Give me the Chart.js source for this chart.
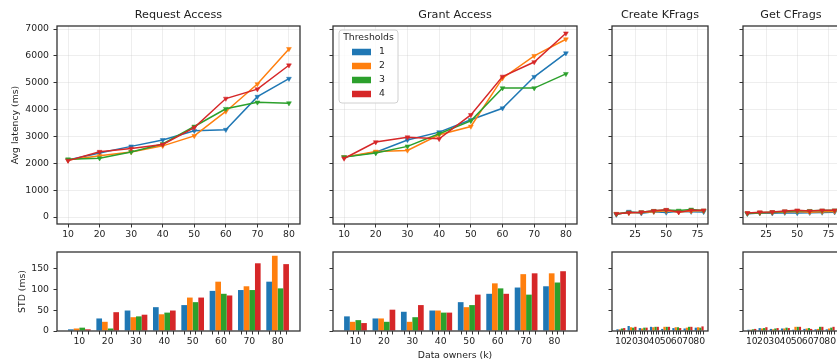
<!DOCTYPE html>
<html>
<head>
<meta charset="utf-8">
<script src="https://cdn.jsdelivr.net/npm/chart.js@4.4.1/dist/chart.umd.min.js"></script>
<style>
  html, body { margin: 0; padding: 0; background: #fff; overflow: hidden; width: 837px; height: 359px; }
  canvas { position: absolute; }
</style>
</head>
<body>
<script>
// ---- categories and tick labels ----
const owners = [10, 20, 30, 40, 50, 60, 70, 80];          // data owners (k)
const thresholds = ['1', '2', '3', '4'];
const latencyTicks = [0, 1000, 2000, 3000, 4000, 5000, 6000, 7000];
const stdTicks = [0, 50, 100, 150];
const narrowTicks = [25, 50, 75];

// ---- average latency (ms) per threshold ----
const requestAvgT1 = [2120, 2380, 2630, 2870, 3210, 3250, 4480, 5150];
const requestAvgT2 = [2120, 2280, 2420, 2650, 3020, 3930, 4950, 6260];
const requestAvgT3 = [2150, 2190, 2420, 2720, 3370, 4030, 4270, 4240];
const requestAvgT4 = [2100, 2430, 2550, 2700, 3330, 4410, 4760, 5650];

const grantAvgT1 = [2230, 2410, 2870, 3160, 3620, 4050, 5220, 6100];
const grantAvgT2 = [2230, 2440, 2480, 3060, 3370, 5170, 6000, 6620];
const grantAvgT3 = [2230, 2380, 2630, 3100, 3580, 4800, 4800, 5330];
const grantAvgT4 = [2180, 2790, 2970, 2910, 3800, 5230, 5770, 6840];

const kfragsAvgT1 = [90, 200, 140, 200, 170, 210, 200, 190];
const kfragsAvgT2 = [120, 160, 170, 200, 230, 190, 220, 230];
const kfragsAvgT3 = [110, 170, 180, 230, 260, 240, 280, 240];
const kfragsAvgT4 = [120, 160, 180, 230, 270, 180, 250, 250];

const cfragsAvgT1 = [120, 150, 140, 160, 150, 160, 170, 180];
const cfragsAvgT2 = [140, 160, 170, 190, 210, 180, 200, 210];
const cfragsAvgT3 = [130, 160, 180, 210, 230, 230, 240, 250];
const cfragsAvgT4 = [150, 180, 190, 220, 250, 220, 250, 250];

// ---- standard deviation (ms) per threshold ----
const requestStdT1 = [4, 30, 49, 57, 62, 96, 98, 118];
const requestStdT2 = [6, 22, 33, 40, 80, 118, 107, 180];
const requestStdT3 = [8, 6, 35, 44, 69, 89, 98, 102];
const requestStdT4 = [4, 45, 39, 49, 80, 85, 162, 160];

const grantStdT1 = [35, 30, 46, 49, 69, 89, 104, 107];
const grantStdT2 = [22, 30, 22, 49, 57, 114, 136, 138];
const grantStdT3 = [26, 22, 33, 44, 62, 102, 87, 116];
const grantStdT4 = [19, 51, 62, 44, 87, 89, 138, 143];

const kfragsStdT1 = [4, 12, 7, 10, 5, 7, 6, 8];
const kfragsStdT2 = [4, 9, 6, 9, 10, 9, 8, 9];
const kfragsStdT3 = [6, 8, 8, 10, 10, 9, 10, 8];
const kfragsStdT4 = [7, 10, 8, 10, 10, 7, 10, 11];

const cfragsStdT1 = [3, 7, 5, 6, 3, 5, 4, 4];
const cfragsStdT2 = [3, 6, 4, 6, 10, 6, 5, 6];
const cfragsStdT3 = [4, 7, 6, 8, 10, 7, 10, 8];
const cfragsStdT4 = [5, 9, 7, 7, 10, 5, 10, 10];

// ---- styling ----
const colors = ['#1f77b4', '#ff7f0e', '#2ca02c', '#d62728'];
const TEXT = '#1e1e1e';
const FRAME = '#333333';
const TICK = '#333333';
const GRID = 'rgba(200,200,200,0.4)';
const FONT = 'DejaVu Sans';
const BASE_SIZE = 9.3;
const TITLE_SIZE = 11.2;

// ---- layout of the panel grid (pixels) ----
const columns = [
  { left: 57, right: 300 },
  { left: 333, right: 577 },
  { left: 612, right: 708 },
  { left: 743, right: 839 }
];
const TOP_ROW = { top: 26, bottom: 224, canvasTop: 0, canvasH: 240 };
const BOTTOM_ROW = { top: 252, bottom: 331, canvasTop: 240, canvasH: 121 };
const PAD_R = 8;
const SIDE_W = 20;

Chart.defaults.font.family = FONT;
Chart.defaults.font.size = BASE_SIZE;
Chart.defaults.color = TEXT;

const plainNumber = v => String(v);

// frame, title, legend and per-bar tick marks for each panel
const panelDecor = {
  id: 'panelDecor',
  afterDatasetsDraw(chart, args, o) {
    const { ctx, chartArea: a } = chart;
    ctx.save();
    if (o.barTicks) {
      ctx.strokeStyle = TICK;
      ctx.lineWidth = 1;
      chart.data.datasets.forEach((d, i) => {
        chart.getDatasetMeta(i).data.forEach(bar => {
          const x = Math.round(bar.x) + 0.5;
          ctx.beginPath();
          ctx.moveTo(x, a.bottom);
          ctx.lineTo(x, a.bottom + 3.5);
          ctx.stroke();
        });
      });
    }
    ctx.strokeStyle = FRAME;
    ctx.lineWidth = 1.3;
    ctx.strokeRect(a.left, a.top, a.right - a.left, a.bottom - a.top);
    if (o.title) {
      ctx.fillStyle = TEXT;
      ctx.font = TITLE_SIZE + 'px "' + FONT + '"';
      ctx.textAlign = 'center';
      ctx.textBaseline = 'middle';
      ctx.fillText(o.title, (a.left + a.right) / 2, a.top - 11);
    }
    if (o.legend) {
      const lx = a.left + 6, ly = a.top + 4, lw = 59, lh = 73, r = 3;
      ctx.beginPath();
      ctx.moveTo(lx + r, ly);
      ctx.arcTo(lx + lw, ly, lx + lw, ly + lh, r);
      ctx.arcTo(lx + lw, ly + lh, lx, ly + lh, r);
      ctx.arcTo(lx, ly + lh, lx, ly, r);
      ctx.arcTo(lx, ly, lx + lw, ly, r);
      ctx.closePath();
      ctx.fillStyle = 'rgba(255,255,255,0.8)';
      ctx.fill();
      ctx.strokeStyle = '#d0d0d0';
      ctx.lineWidth = 1;
      ctx.stroke();
      ctx.fillStyle = TEXT;
      ctx.font = BASE_SIZE + 'px "' + FONT + '"';
      ctx.textAlign = 'center';
      ctx.textBaseline = 'middle';
      ctx.fillText('Thresholds', lx + lw / 2, ly + 7.5);
      chart.data.datasets.forEach((d, k) => {
        const y = ly + 22 + k * 14;
        ctx.fillStyle = d.borderColor;
        ctx.fillRect(lx + 13, y - 3.25, 19, 6.5);
        ctx.fillStyle = TEXT;
        ctx.textAlign = 'left';
        ctx.fillText(d.label, lx + 40, y);
      });
    }
    ctx.restore();
  }
};

function addCanvas(left, top, width, height) {
  const c = document.createElement('canvas');
  c.width = width;
  c.height = height;
  c.style.left = left + 'px';
  c.style.top = top + 'px';
  c.style.width = width + 'px';
  c.style.height = height + 'px';
  document.body.appendChild(c);
  return c;
}

function frameFor(col, row) {
  const g = columns[col];
  const yW = col === 0 ? g.left : SIDE_W;
  const left = g.left - yW;
  return {
    yW,
    left,
    width: g.right + PAD_R - left,
    xH: row.canvasH - (row.bottom - row.canvasTop),
    padTop: row.top - row.canvasTop
  };
}

function latencyPanel(col, title, series, xTicks, legend) {
  const f = frameFor(col, TOP_ROW);
  const canvas = addCanvas(f.left, TOP_ROW.canvasTop, f.width, TOP_ROW.canvasH);
  new Chart(canvas, {
    type: 'line',
    data: {
      datasets: series.map((vals, i) => ({
        label: thresholds[i],
        data: owners.map((x, j) => ({ x, y: vals[j] })),
        borderColor: colors[i],
        backgroundColor: colors[i],
        borderWidth: 1.5,
        pointStyle: 'triangle',
        rotation: 180,
        pointRadius: 2.8,
        pointBorderWidth: 0.5,
        pointBackgroundColor: colors[i],
        pointBorderColor: colors[i],
        tension: 0,
        order: series.length - 1 - i
      }))
    },
    plugins: [panelDecor],
    options: {
      responsive: false,
      devicePixelRatio: 1,
      animation: false,
      events: [],
      layout: { padding: { left: 0, right: PAD_R, top: f.padTop, bottom: 0 } },
      plugins: {
        legend: { display: false },
        tooltip: { enabled: false },
        panelDecor: { title, legend }
      },
      scales: {
        x: {
          type: 'linear',
          min: 6.5,
          max: 83.5,
          afterBuildTicks: s => { s.ticks = xTicks.map(value => ({ value })); },
          afterFit: s => { s.height = f.xH; },
          border: { display: false },
          grid: { color: GRID, lineWidth: 0.8, tickLength: 3.5, tickColor: TICK, tickWidth: 1 },
          ticks: { padding: 2, autoSkip: false, maxRotation: 0, minRotation: 0, callback: plainNumber }
        },
        y: {
          type: 'linear',
          min: -260,
          max: 7112,
          afterBuildTicks: s => { s.ticks = latencyTicks.map(value => ({ value })); },
          afterFit: s => { s.width = f.yW; },
          border: { display: false },
          grid: { color: GRID, lineWidth: 0.8, tickLength: 3.5, tickColor: TICK, tickWidth: 1 },
          ticks: { display: col === 0, padding: 4.5, callback: plainNumber },
          title: { display: col === 0, text: 'Avg latency (ms)', padding: { top: 10, bottom: 0 } }
        }
      }
    }
  });
}

function stdPanel(col, series, xTitle) {
  const f = frameFor(col, BOTTOM_ROW);
  const canvas = addCanvas(f.left, BOTTOM_ROW.canvasTop, f.width, BOTTOM_ROW.canvasH);
  new Chart(canvas, {
    type: 'bar',
    data: {
      datasets: series.map((vals, i) => ({
        label: thresholds[i],
        data: owners.map((x, j) => ({ x, y: vals[j] })),
        backgroundColor: colors[i],
        borderColor: colors[i],
        borderWidth: 0,
        barPercentage: 1.0,
        categoryPercentage: 0.8
      }))
    },
    plugins: [panelDecor],
    options: {
      responsive: false,
      devicePixelRatio: 1,
      animation: false,
      events: [],
      layout: { padding: { left: 0, right: PAD_R, top: f.padTop, bottom: 0 } },
      plugins: {
        legend: { display: false },
        tooltip: { enabled: false },
        panelDecor: { barTicks: true }
      },
      scales: {
        x: {
          type: 'linear',
          offset: false,
          min: 2.1,
          max: 87.9,
          afterBuildTicks: s => { s.ticks = owners.map(value => ({ value })); },
          afterFit: s => { s.height = f.xH; },
          border: { display: false },
          grid: { offset: false, drawOnChartArea: false, drawTicks: false },
          ticks: { padding: 5.5, autoSkip: false, maxRotation: 0, minRotation: 0, callback: plainNumber },
          title: { display: !!xTitle, text: xTitle || '', padding: { top: 0, bottom: 0 } }
        },
        y: {
          type: 'linear',
          min: 0,
          max: 189,
          afterBuildTicks: s => { s.ticks = stdTicks.map(value => ({ value })); },
          afterFit: s => { s.width = f.yW; },
          border: { display: false },
          grid: { drawOnChartArea: false, tickLength: 3.5, tickColor: TICK, tickWidth: 1 },
          ticks: { display: col === 0, padding: 4.5, callback: plainNumber },
          title: { display: col === 0, text: 'STD (ms)', padding: { top: 17, bottom: 0 } }
        }
      }
    }
  });
}

latencyPanel(0, 'Request Access', [requestAvgT1, requestAvgT2, requestAvgT3, requestAvgT4], owners, false);
latencyPanel(1, 'Grant Access', [grantAvgT1, grantAvgT2, grantAvgT3, grantAvgT4], owners, true);
latencyPanel(2, 'Create KFrags', [kfragsAvgT1, kfragsAvgT2, kfragsAvgT3, kfragsAvgT4], narrowTicks, false);
latencyPanel(3, 'Get CFrags', [cfragsAvgT1, cfragsAvgT2, cfragsAvgT3, cfragsAvgT4], narrowTicks, false);

stdPanel(0, [requestStdT1, requestStdT2, requestStdT3, requestStdT4]);
stdPanel(1, [grantStdT1, grantStdT2, grantStdT3, grantStdT4], 'Data owners (k)');
stdPanel(2, [kfragsStdT1, kfragsStdT2, kfragsStdT3, kfragsStdT4]);
stdPanel(3, [cfragsStdT1, cfragsStdT2, cfragsStdT3, cfragsStdT4]);
</script>
</body>
</html>
